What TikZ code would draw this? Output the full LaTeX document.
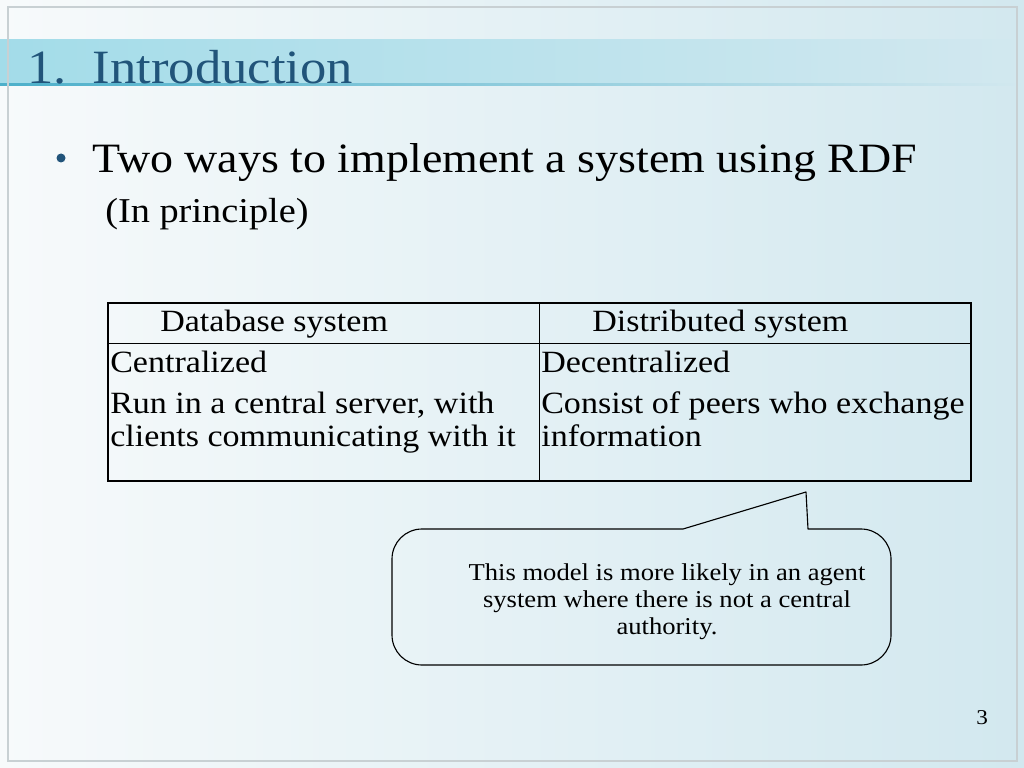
\documentclass[tikz,border=0pt]{standalone}
\usepackage{fontspec}
\setmainfont{Liberation Serif}[FakeStretch=1.1]
\usepackage{tikz}
\definecolor{titleblue}{RGB}{33,84,122}
\definecolor{bgleft}{RGB}{247,250,251}
\definecolor{bgmid}{RGB}{237,245,247}
\definecolor{bgright}{RGB}{210,232,239}
\definecolor{barleft}{RGB}{163,220,233}
\definecolor{barline}{RGB}{77,176,202}
\definecolor{framegray}{RGB}{200,208,211}

\begin{document}
\begin{tikzpicture}[x=0.025cm,y=-0.025cm,
  slidetext/.style={anchor=base west,inner sep=0pt},
  titletext/.style={slidetext,text=titleblue,font=\fontsize{34}{40}\selectfont},
  bullettext/.style={slidetext,font=\fontsize{29.7}{36}\selectfont},
  subtext/.style={slidetext,font=\fontsize{24.8}{30}\selectfont},
  celltext/.style={slidetext,font=\fontsize{22}{26}\selectfont},
  notetext/.style={inner sep=0pt,align=center,font=\fontsize{17.2}{19.2}\selectfont}]
\useasboundingbox (0,0) rectangle (1024,768);
\fill[left color=bgleft,middle color=bgmid,right color=bgright] (0,0) rectangle (1024,768);
\fill[left color=barleft,right color=bgright] (0,40) rectangle (1024,85);
\fill[left color=barline,right color=bgright] (0,84) rectangle (1024,86);
\draw[framegray,line width=1pt] (8,7) rectangle (1017,761);
\node[titletext] (title) at (27,84) {1.\hspace{0.55em}Introduction};
\node[circle,fill=titleblue,inner sep=0pt,minimum size=6.4pt] (dot) at (61,158) {};
\node[bullettext] (point) at (92,173) {Two ways to implement a system using RDF};
\node[subtext] (aside) at (105,222) {(In principle)};
\draw[line width=2.1pt] (108,303) rectangle (971,481);
\draw[line width=0.7pt] (108,343) -- (971,343);
\draw[line width=0.7pt] (539,303) -- (539,481);
\node[celltext] (dbhead) at (160,331) {Database system};
\node[celltext] (dshead) at (592,331) {Distributed system};
\node[celltext] (dbA) at (110,372) {Centralized};
\node[celltext] (dbB) at (110,413) {Run in a central server, with};
\node[celltext] (dbC) at (110,446) {clients communicating with it};
\node[celltext] (dsA) at (541,372) {Decentralized};
\node[celltext] (dsB) at (541,413) {Consist of peers who exchange};
\node[celltext] (dsC) at (541,446) {information};
\draw[line width=0.8pt,line join=round] (683,529) -- (806,492) -- (808,529) -- (861,529)
  .. controls (877.6,529) and (891,542.4) .. (891,559) -- (891,635)
  .. controls (891,651.6) and (877.6,665) .. (861,665) -- (422,665)
  .. controls (405.4,665) and (392,651.6) .. (392,635) -- (392,559)
  .. controls (392,542.4) and (405.4,529) .. (422,529) -- cycle;
\node[notetext] (note) at (667,602) {This model is more likely in an agent\\system where there is not a central\\authority.};
\node[slidetext,font=\fontsize{15}{18}\selectfont] (page) at (976,724) {3};
\end{tikzpicture}
\end{document}
